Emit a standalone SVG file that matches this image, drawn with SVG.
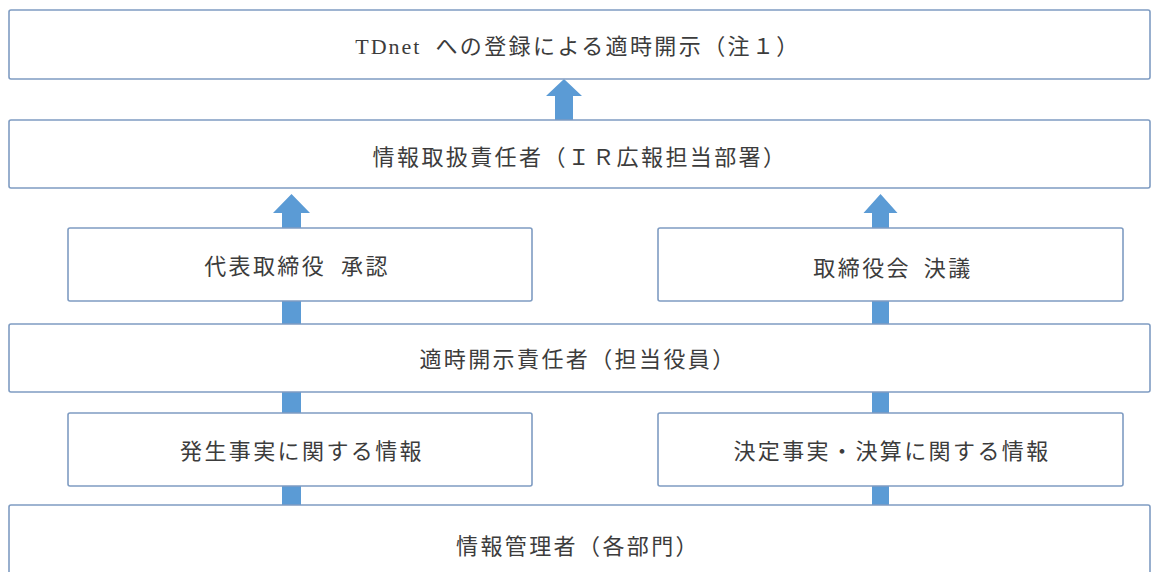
<svg xmlns="http://www.w3.org/2000/svg" width="1152" height="572" viewBox="0 0 1152 572">
<style>
.box{fill:#fff;stroke:#7f9cc2;stroke-width:1.6}
.lbl{font-family:"Liberation Serif","Noto Sans CJK JP",serif;font-size:22px;fill:#3c3c3c;text-anchor:middle;dominant-baseline:central;letter-spacing:2.4px}
.arr{fill:#5b9bd5}
</style>
<rect width="1152" height="572" fill="#fff"/>
<g id="connectors">
<polygon class="arr" points="555,120 555,96 546,96 564,79 582,96 573,96 573,120"/>
<polygon class="arr" points="282,228 282,213 273,213 291.5,194 310,213 301,213 301,228"/>
<polygon class="arr" points="872,228 872,213 863.5,213 880.5,194 897.5,213 889,213 889,228"/>
<rect class="arr" x="282" y="301" width="19" height="23"/>
<rect class="arr" x="872" y="301" width="17" height="23"/>
<rect class="arr" x="282" y="392" width="19" height="21"/>
<rect class="arr" x="872" y="392" width="17" height="21"/>
<rect class="arr" x="282" y="486" width="19" height="19"/>
<rect class="arr" x="872" y="486" width="17" height="19"/>
</g>
<g id="tdnet"><rect class="box" x="9" y="10" width="1141" height="69" rx="2"/><text class="lbl" x="578" y="46"><tspan letter-spacing="2px">TDnet</tspan><tspan dx="14">への登録による適時開示（注１）</tspan></text></g>
<g id="ir"><rect class="box" x="9" y="120" width="1141" height="68" rx="2"/><text class="lbl" x="580" y="157">情報取扱責任者（ＩＲ広報担当部署）</text></g>
<g id="ceo"><rect class="box" x="68" y="228" width="464" height="73" rx="2"/><text class="lbl" x="297" y="266">代表取締役 <tspan dx="7">承認</tspan></text></g>
<g id="board"><rect class="box" x="658" y="228" width="465" height="73" rx="2"/><text class="lbl" x="893" y="268">取締役会 <tspan dx="5">決議</tspan></text></g>
<g id="officer"><rect class="box" x="9" y="324" width="1141" height="68" rx="2"/><text class="lbl" x="578" y="359">適時開示責任者（担当役員）</text></g>
<g id="occur"><rect class="box" x="68" y="413" width="464" height="73" rx="2"/><text class="lbl" x="302" y="451">発生事実に関する情報</text></g>
<g id="decide"><rect class="box" x="658" y="413" width="465" height="73" rx="2"/><text class="lbl" x="892" y="451">決定事実・決算に関する情報</text></g>
<g id="manager"><rect class="box" x="9" y="505" width="1141" height="100" rx="2"/><text class="lbl" x="578" y="546">情報管理者（各部門）</text></g>
</svg>
